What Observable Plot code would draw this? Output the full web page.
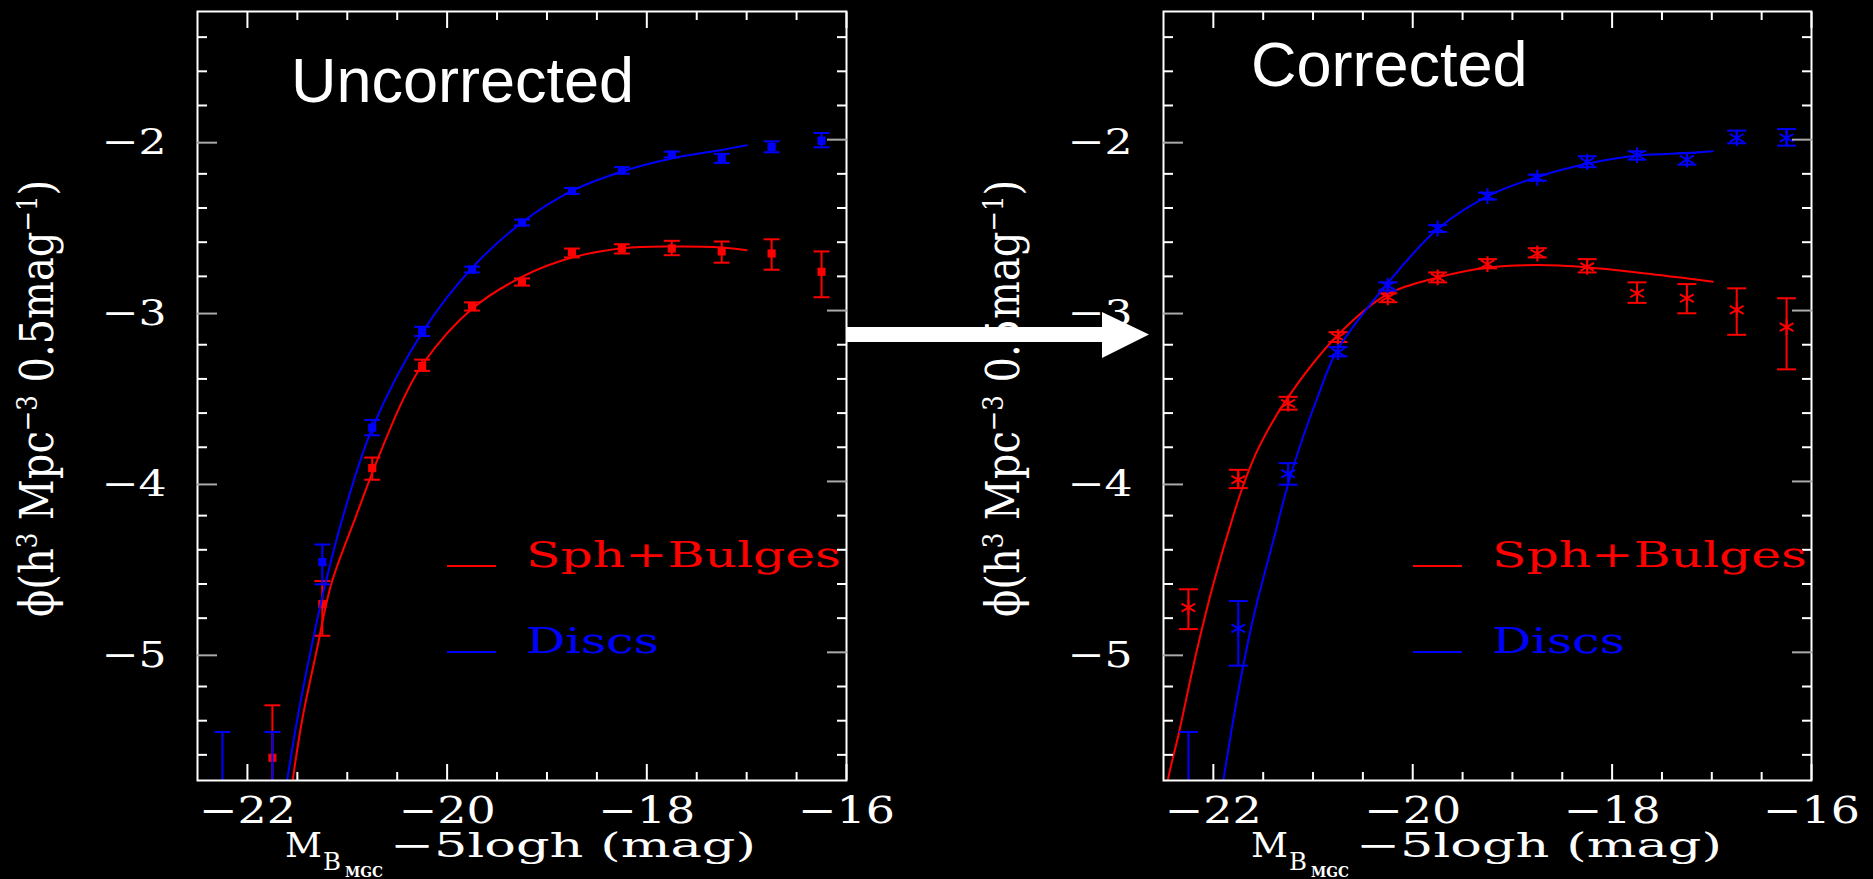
<!DOCTYPE html>
<html><head><meta charset="utf-8">
<script src="https://cdn.jsdelivr.net/npm/d3@7"></script>
<script src="https://cdn.jsdelivr.net/npm/@observablehq/plot@0.6"></script>
<style>
html,body{margin:0;padding:0;background:#000;}
#wrap{position:relative;width:1873px;height:879px;background:#000;overflow:hidden;}
#wrap svg{position:absolute;top:0;}
</style></head><body><div id="wrap"></div>
<script>
// ---- data (log10 phi per 0.5 mag bin) ----
const mags = [-22.25, -21.75, -21.25, -20.75, -20.25, -19.75, -19.25, -18.75, -18.25, -17.75, -17.25, -16.75, -16.25];

// Uncorrected panel
const uncDiscPhi  = [-6.2, -6.0, -4.472, -3.685, -3.12, -2.76, -2.485, -2.30, -2.18, -2.087, -2.107, -2.043, -2.006];
const uncDiscHi   = [-5.466, -5.466, -4.369, -3.64, -3.095, -2.743, -2.468, -2.283, -2.161, -2.07, -2.083, -2.01, -1.961];
const uncDiscLo   = [-6.9, -6.6, -4.602, -3.73, -3.149, -2.777, -2.502, -2.317, -2.199, -2.104, -2.136, -2.074, -2.045];
const uncBulgePhi = [null, -5.617, -4.718, -3.922, -3.324, -2.977, -2.831, -2.66, -2.637, -2.637, -2.654, -2.666, -2.773];
const uncBulgeHi  = [null, -5.31, -4.583, -3.86, -3.287, -2.952, -2.812, -2.637, -2.612, -2.592, -2.596, -2.583, -2.654];
const uncBulgeLo  = [null, -5.92, -4.903, -3.99, -3.353, -3.0, -2.854, -2.689, -2.666, -2.676, -2.72, -2.761, -2.922];

const uncDiscFitMag  = [-21.65, -21.60, -21.50, -21.37, -21.22, -21.04, -20.75, -20.24, -19.75, -19.24, -18.75, -18.24, -17.75, -17.25, -17.00];
const uncDiscFitPhi  = [-5.93, -5.74, -5.39, -5.00, -4.60, -4.20, -3.69, -3.12, -2.75, -2.48, -2.30, -2.185, -2.11, -2.06, -2.033];
const uncBulgeFitMag = [-21.58, -21.545, -21.45, -21.31, -21.16, -20.91, -20.73, -20.44, -20.24, -19.75, -19.24, -18.75, -18.24, -17.75, -17.25, -17.00];
const uncBulgeFitPhi = [-5.90, -5.742, -5.39, -5.00, -4.60, -4.20, -3.92, -3.52, -3.31, -2.99, -2.80, -2.69, -2.635, -2.625, -2.631, -2.647];

// Corrected panel
const corDiscPhi  = [-6.0, -4.86, -3.955, -3.243, -2.854, -2.52, -2.33, -2.223, -2.13, -2.09, -2.117, -1.99, -1.99];
const corDiscHi   = [-5.466, -4.70, -3.893, -3.214, -2.835, -2.50, -2.31, -2.205, -2.097, -2.068, -2.078, -1.947, -1.938];
const corDiscLo   = [-6.5, -5.078, -4.019, -3.268, -2.883, -2.54, -2.35, -2.24, -2.161, -2.117, -2.146, -2.021, -2.035];
const corBulgePhi = [-4.738, -3.99, -3.544, -3.155, -2.922, -2.806, -2.728, -2.666, -2.744, -2.899, -2.928, -2.996, -3.097];
const corBulgeHi  = [-4.631, -3.932, -3.505, -3.126, -2.899, -2.777, -2.699, -2.635, -2.699, -2.835, -2.845, -2.87, -2.928];
const corBulgeLo  = [-4.864, -4.039, -3.58, -3.184, -2.951, -2.835, -2.753, -2.689, -2.777, -2.955, -3.016, -3.142, -3.344];

const corDiscFitMag  = [-21.94, -21.898, -21.75, -21.60, -21.40, -21.22, -20.95, -20.755, -20.259, -19.745, -19.245, -18.741, -18.241, -17.745, -17.245, -16.991];
const corDiscFitPhi  = [-5.90, -5.742, -5.23, -4.80, -4.35, -3.955, -3.50, -3.23, -2.845, -2.52, -2.33, -2.217, -2.14, -2.093, -2.078, -2.068];
const corBulgeFitMag = [-22.49, -22.454, -22.343, -22.17, -22.0, -21.80, -21.68, -21.54, -21.27, -20.755, -20.26, -19.745, -19.245, -18.74, -18.24, -17.745, -17.245, -16.99];
const corBulgeFitPhi = [-5.90, -5.742, -5.466, -5.0, -4.6, -4.2, -3.99, -3.796, -3.524, -3.146, -2.907, -2.806, -2.748, -2.734, -2.748, -2.777, -2.812, -2.831];

// axes
const xDomain = [-22.5, -16];
const yDomain = [-5.75, -1.25];
const xMajor = [-22, -20, -18, -16];
const xMinor = [-21.5, -21, -20.5, -19.5, -19, -18.5, -17.5, -17, -16.5];
const yMajor = [-2, -3, -4, -5];
const yMinor = [-1.4, -1.6, -1.8, -2.2, -2.4, -2.6, -2.8, -3.2, -3.4, -3.6, -3.8, -4.2, -4.4, -4.6, -4.8, -5.2, -5.4, -5.6];

const panelTitles = ["Uncorrected", "Corrected"];
const seriesNames = ["Sph+Bulges", "Discs"];
const RED = "#ff0000", BLUE = "#0000ff";

// ---- helpers ----
function rows(phi, hi, lo) {
  return mags.map((m, i) => ({mag: m, phi: phi[i], hi: hi[i], lo: lo[i]})).filter(d => d.phi != null);
}
function fitRows(xs, ys) { return xs.map((m, i) => ({mag: m, phi: ys[i]})); }
const capSymbol = {draw(ctx, size) { const r = Math.sqrt(size / Math.PI); ctx.moveTo(-r, 0); ctx.lineTo(r, 0); }};

function seriesMarks(data, fit, color, symbol, capR) {
  const out = [
    Plot.line(fit, {x: "mag", y: "phi", stroke: color, strokeWidth: 2, curve: "catmull-rom", clip: true}),
    Plot.ruleX(data, {x: "mag", y1: "lo", y2: "hi", stroke: color, strokeWidth: 2, clip: true}),
    Plot.dot(data, {x: "mag", y: "hi", symbol: capSymbol, r: capR, stroke: color, fill: "none", strokeWidth: 2, clip: true}),
    Plot.dot(data, {x: "mag", y: "lo", symbol: capSymbol, r: capR, stroke: color, fill: "none", strokeWidth: 2, clip: true})
  ];
  if (symbol === "square") out.push(Plot.dot(data, {x: "mag", y: "phi", symbol: "square", r: 4.6, fill: color, stroke: "none", clip: true}));
  else out.push(Plot.dot(data, {x: "mag", y: "phi", symbol: "asterisk", r: 7.5, stroke: color, fill: "none", strokeWidth: 2, clip: true}));
  return out;
}

function makePanel(cfg) {
  const fmt = d3.format("d");
  const svgNode = Plot.plot({
    width: cfg.width, height: 879,
    marginLeft: cfg.ml, marginRight: cfg.mr, marginTop: 11, marginBottom: 99,
    x: {domain: xDomain, label: null},
    y: {domain: yDomain, label: null},
    style: {background: "transparent", color: "white", fontFamily: "'DejaVu Serif', serif", overflow: "visible"},
    marks: [
      ...seriesMarks(cfg.bulge, cfg.bulgeFit, RED, cfg.symbol, cfg.capR),
      ...seriesMarks(cfg.disc, cfg.discFit, BLUE, cfg.symbol, cfg.capR),
      Plot.frame({stroke: "white", strokeWidth: 2}),
      Plot.axisX(xMajor, {anchor: "bottom", tickSize: -16, tickPadding: 32, fontSize: 37, tickFormat: fmt, label: null, stroke: "white", fill: "white", strokeWidth: 2}),
      Plot.axisX(xMinor, {anchor: "bottom", tickSize: -8, fill: "none", label: null, stroke: "white", strokeWidth: 2}),
      Plot.axisX(xMajor, {anchor: "top", tickSize: -16, fill: "none", label: null, stroke: "white", strokeWidth: 2}),
      Plot.axisX(xMinor, {anchor: "top", tickSize: -8, fill: "none", label: null, stroke: "white", strokeWidth: 2}),
      Plot.axisY(yMajor, {anchor: "left", tickSize: -20, tickPadding: 51, dy: 3, fontSize: 36, tickFormat: fmt, label: null, stroke: "#aaaaaa", fill: "white", strokeWidth: 2}),
      Plot.axisY(yMinor, {anchor: "left", tickSize: -10, fill: "none", label: null, stroke: "white", strokeWidth: 2}),
      Plot.axisY(yMajor, {anchor: "right", tickSize: -20, fill: "none", label: null, stroke: "#aaaaaa", strokeWidth: 2}),
      Plot.axisY(yMinor, {anchor: "right", tickSize: -10, fill: "none", label: null, stroke: "white", strokeWidth: 2})
    ]
  });
  svgNode.style.left = cfg.left + "px";
  document.getElementById("wrap").appendChild(svgNode);
  const svg = d3.select(svgNode);
  svg.selectAll('g[aria-label="x-axis tick label"] text').attr("textLength", 97).attr("lengthAdjust", "spacingAndGlyphs");
  svg.selectAll('g[aria-label="y-axis tick label"] text').attr("textLength", 65).attr("lengthAdjust", "spacingAndGlyphs");

  const FL = cfg.ml;
  const base = (x, y, size, fill, family) => svg.append("text").attr("x", x).attr("y", y)
    .attr("text-anchor", "start").attr("font-family", family || "'DejaVu Serif', serif")
    .attr("font-size", size).attr("fill", fill);

  // panel title
  base(291, cfg.titleY, 63, "white", "'Liberation Sans', Arial, sans-serif").text(cfg.title);

  // legend
  const leg = [[seriesNames[0], RED, 567, 315], [seriesNames[1], BLUE, 653, 133]];
  leg.forEach(([name, col, y, len]) => {
    svg.append("line").attr("x1", FL + 250).attr("x2", FL + 299).attr("y1", y - 1).attr("y2", y - 1)
      .attr("stroke", col).attr("stroke-width", 2);
    base(FL + 329, y, 36, col).attr("textLength", len).attr("lengthAdjust", "spacingAndGlyphs").text(name);
  });

  // x axis title
  const xt = (x, y, size, txt, len, weight) => base(FL + x, y, size, "white")
    .attr("font-weight", weight || "normal")
    .attr("textLength", len).attr("lengthAdjust", "spacingAndGlyphs").text(txt);
  xt(88, 857, 34, "M", 37);
  xt(126, 870, 25, "B", 18);
  xt(148, 877, 14, "MGC", 38, "bold");
  xt(193, 857, 34, "−5logh (mag)", 366);

  // y axis title
  const t = svg.append("text").attr("transform", `translate(${FL - 144},617) rotate(-90)`)
    .attr("text-anchor", "start")
    .attr("font-family", "'DejaVu Serif', serif").attr("font-size", 46).attr("fill", "white")
    .attr("textLength", 437).attr("lengthAdjust", "spacingAndGlyphs");
  t.append("tspan").text("ϕ(h");
  t.append("tspan").attr("dy", -16).attr("font-size", 28).text("3");
  t.append("tspan").attr("dy", 16).text(" Mpc");
  t.append("tspan").attr("dy", -16).attr("font-size", 28).text("−3");
  t.append("tspan").attr("dy", 16).text(" 0.5mag");
  t.append("tspan").attr("dy", -16).attr("font-size", 28).text("−1");
  t.append("tspan").attr("dy", 16).text(")");
}

makePanel({
  left: 0, width: 960, ml: 197, mr: 114, title: panelTitles[0], titleY: 102,
  disc: rows(uncDiscPhi, uncDiscHi, uncDiscLo), bulge: rows(uncBulgePhi, uncBulgeHi, uncBulgeLo),
  discFit: fitRows(uncDiscFitMag, uncDiscFitPhi), bulgeFit: fitRows(uncBulgeFitMag, uncBulgeFitPhi),
  symbol: "square", capR: 8
});
makePanel({
  left: 960, width: 913, ml: 203, mr: 62, title: panelTitles[1], titleY: 86,
  disc: rows(corDiscPhi, corDiscHi, corDiscLo), bulge: rows(corBulgePhi, corBulgeHi, corBulgeLo),
  discFit: fitRows(corDiscFitMag, corDiscFitPhi), bulgeFit: fitRows(corBulgeFitMag, corBulgeFitPhi),
  symbol: "asterisk", capR: 9.5
});

// arrow between panels (annotation)
const ov = d3.select("#wrap").append("svg").attr("width", 1873).attr("height", 879)
  .style("left", "0px").style("pointer-events", "none");
ov.append("polygon")
  .attr("points", "846,327 1102,327 1102,312 1149,334.5 1102,358 1102,342 846,342")
  .attr("fill", "white");
</script></body></html>
